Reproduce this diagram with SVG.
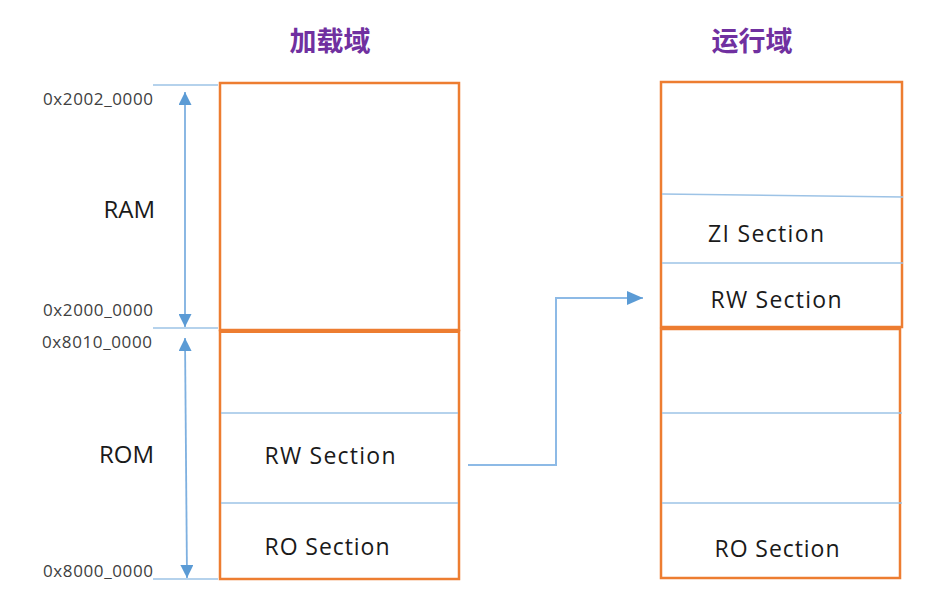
<svg xmlns="http://www.w3.org/2000/svg" width="947" height="604" viewBox="0 0 947 604">
<style>
.box{fill:none;stroke:#ED7D31;stroke-width:2.5}
.sep{stroke:#9DC3E6;stroke-width:1.5;fill:none}
.axis{stroke:#7EB0E0;stroke-width:1.8;fill:none}
.conn{stroke:#8DBAE6;stroke-width:2;fill:none}
.lbl{font-family:"Open Sans","Liberation Sans",sans-serif;fill:#1a1a1a}
.addr{font-family:"Open Sans","Liberation Sans",sans-serif;font-size:17px;fill:#404040;text-anchor:end}
.title{font-family:"Noto Sans CJK SC",sans-serif;font-size:27px;font-weight:bold;fill:#7030A0}
</style>
<defs>
<marker id="ah" markerWidth="13" markerHeight="13" refX="13" refY="6.5" orient="auto-start-reverse" markerUnits="userSpaceOnUse">
<path d="M0,0 L13,6.5 L0,13 Z" fill="#5B9BD5"/>
</marker>
<marker id="ah2" markerWidth="16" markerHeight="14" refX="16" refY="7" orient="auto" markerUnits="userSpaceOnUse">
<path d="M0,0 L16,7 L0,14 Z" fill="#5B9BD5"/>
</marker>
</defs>

<g id="titles">
<text class="title" x="330" y="51" text-anchor="middle">加载域</text>
<text class="title" x="752" y="51" text-anchor="middle">运行域</text>
</g>

<g id="axis">
<line class="sep" x1="153" y1="85" x2="218" y2="85"/>
<line class="sep" x1="153" y1="328" x2="218" y2="328"/>
<line class="sep" x1="153" y1="579" x2="218" y2="579"/>
<text class="addr" x="153" y="105" textLength="110">0x2002_0000</text>
<text class="addr" x="153" y="316" textLength="110">0x2000_0000</text>
<text class="addr" x="152" y="348" textLength="110">0x8010_0000</text>
<text class="addr" x="153" y="577" textLength="110">0x8000_0000</text>
<text class="lbl" x="155" y="218" font-size="24" text-anchor="end">RAM</text>
<text class="lbl" x="154" y="463" font-size="24" text-anchor="end">ROM</text>
</g>

<g id="connectors">
<line class="axis" x1="185" y1="92" x2="185" y2="327" marker-start="url(#ah)" marker-end="url(#ah)"/>
<line class="axis" x1="185" y1="338" x2="187" y2="578" marker-start="url(#ah)" marker-end="url(#ah)"/>
<path class="conn" d="M468,465 H556 V298 H643" marker-end="url(#ah2)"/>
</g>

<g id="load-ram">
<rect class="box" x="220" y="83" width="239" height="247"/>
</g>

<g id="load-rom">
<rect class="box" x="220" y="331" width="239" height="248"/>
<line x1="219" y1="331" x2="460" y2="331" stroke="#ED7D31" stroke-width="4"/>
<line class="sep" x1="221" y1="413" x2="458" y2="413"/>
<line class="sep" x1="221" y1="503" x2="458" y2="503"/>
<text class="lbl" x="330" y="464" font-size="23" text-anchor="middle" textLength="131">RW Section</text>
<text class="lbl" x="327" y="555" font-size="23" text-anchor="middle" textLength="125">RO Section</text>
</g>

<g id="run-ram">
<rect class="box" x="661" y="82" width="241" height="245"/>
<line class="sep" x1="662" y1="194" x2="903" y2="197"/>
<line class="sep" x1="662" y1="263" x2="903" y2="263"/>
<text class="lbl" x="766" y="242" font-size="23" text-anchor="middle" textLength="116">ZI Section</text>
<text class="lbl" x="776" y="308" font-size="23" text-anchor="middle" textLength="131">RW Section</text>
</g>

<g id="run-rom">
<rect class="box" x="661" y="329" width="239" height="249"/>
<line class="sep" x1="662" y1="413" x2="902" y2="413"/>
<line class="sep" x1="662" y1="503" x2="902" y2="503"/>
<text class="lbl" x="777" y="557" font-size="23" text-anchor="middle" textLength="125">RO Section</text>
</g>
</svg>
